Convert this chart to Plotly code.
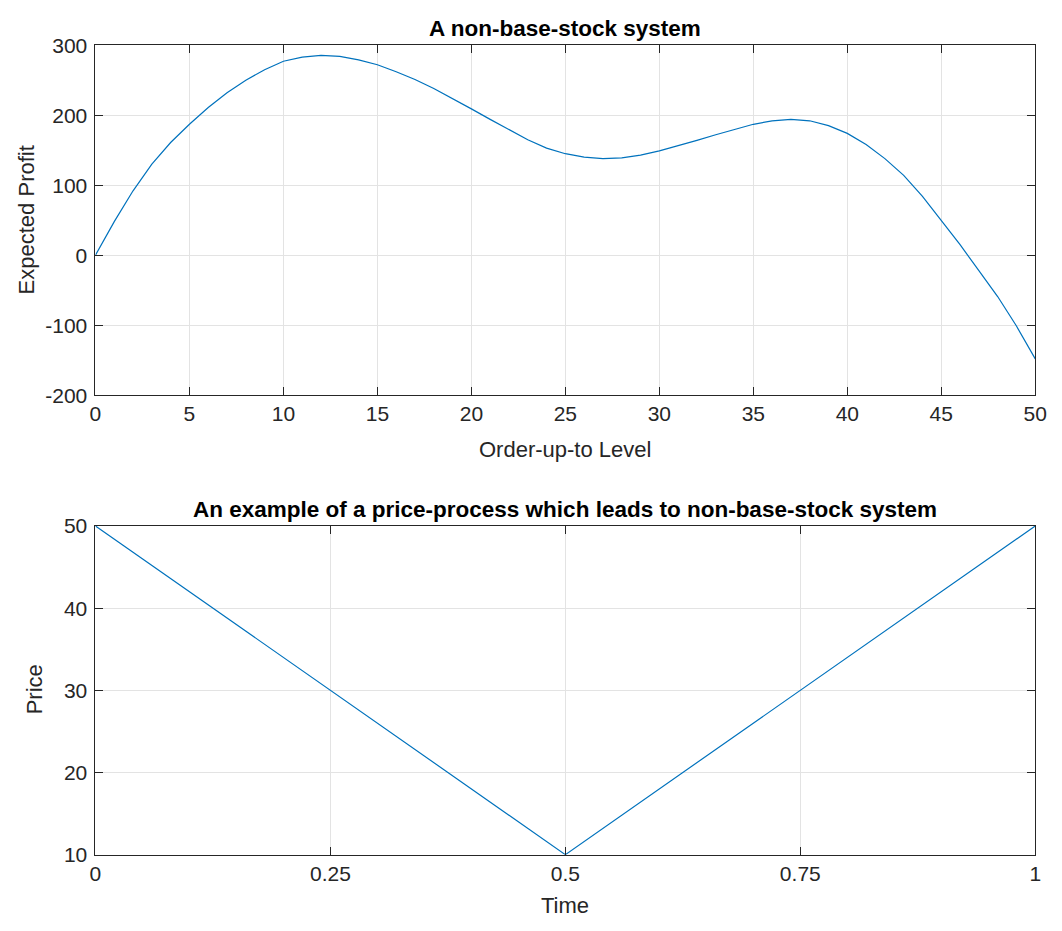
import plotly.graph_objects as go

# Top panel data: expected profit vs order-up-to level
order_level = list(range(0, 51))
expected_profit = [0, 48, 92, 130, 161, 187, 211, 232, 250, 265,
                   277, 283, 285.5, 284, 279, 272, 262, 251, 238, 224,
                   209, 194, 179, 165, 153, 145, 140, 138, 139, 143,
                   149, 156, 164, 172, 180, 187, 192, 194, 192, 185,
                   174, 158, 138, 114, 84, 50, 15, -22, -59, -101,
                   -148]

# Bottom panel data: price process
time_vals = [0, 0.5, 1]
price_vals = [50, 10, 50]

top_xticks = [0, 5, 10, 15, 20, 25, 30, 35, 40, 45, 50]
top_yticks = [-200, -100, 0, 100, 200, 300]
top_yticklabels = ["-200", "-100", "0", "100", "200", "300"]
bot_xticks = [0, 0.25, 0.5, 0.75, 1]
bot_xticklabels = ["0", "0.25", "0.5", "0.75", "1"]
bot_yticks = [10, 20, 30, 40, 50]

W, H = 1062, 931
FONT = "Liberation Sans, Arial, Helvetica, sans-serif"
AX = "#262626"
GRID = "#e3e3e3"
LINE = "#0072BD"


def px(x):
    return x / W


def py(y):
    return 1 - y / H


fig = go.Figure()
fig.add_trace(go.Scatter(x=order_level, y=expected_profit, mode="lines",
                         line=dict(color=LINE, width=1.2), xaxis="x", yaxis="y",
                         showlegend=False))
fig.add_trace(go.Scatter(x=time_vals, y=price_vals, mode="lines",
                         line=dict(color=LINE, width=1.2), xaxis="x2", yaxis="y2",
                         showlegend=False))

xdom = [px(91), px(1047)]
top_dom = [py(393), py(34)]
bot_dom = [py(864), py(527)]

common = dict(showline=True, linecolor=AX, linewidth=1, mirror="ticks",
              ticks="inside", ticklen=8, tickcolor=AX, tickwidth=1,
              showgrid=True, gridcolor=GRID, gridwidth=1, zeroline=False,
              tickfont=dict(family=FONT, size=21, color=AX))

lab = dict(family=FONT, size=22, color=AX)
ttl = dict(family=FONT, size=22.5, color="#000000")

fig.update_layout(
    width=W, height=H,
    margin=dict(l=0, r=0, t=0, b=0),
    paper_bgcolor="white", plot_bgcolor="white",
    font=dict(family=FONT, color=AX),
    xaxis=dict(domain=xdom, range=[0, 50], tickvals=top_xticks, anchor="y", **common),
    yaxis=dict(domain=top_dom, range=[-200, 300], tickvals=top_yticks,
               ticktext=top_yticklabels, anchor="x", ticklabelstandoff=3, **common),
    xaxis2=dict(domain=xdom, range=[0, 1], tickvals=bot_xticks, ticktext=bot_xticklabels,
                anchor="y2", **common),
    yaxis2=dict(domain=bot_dom, range=[10, 50], tickvals=bot_yticks, anchor="x2",
                ticklabelstandoff=3, **common),
    annotations=[
        dict(text="<b>A non-base-stock system</b>", x=px(569), y=py(17),
             xref="paper", yref="paper", xanchor="center", yanchor="middle",
             showarrow=False, font=ttl),
        dict(text="<b>An example of a price-process which leads to non-base-stock system</b>",
             x=px(569), y=py(510), xref="paper", yref="paper",
             xanchor="center", yanchor="middle", showarrow=False, font=ttl),
        dict(text="Order-up-to Level", x=px(569), y=py(449), xref="paper", yref="paper",
             xanchor="center", yanchor="middle", showarrow=False, font=lab),
        dict(text="Expected Profit", x=px(21), y=py(213), xref="paper", yref="paper",
             xanchor="center", yanchor="middle", showarrow=False, font=lab, textangle=-90),
        dict(text="Time", x=px(569), y=py(916), xref="paper", yref="paper",
             xanchor="center", yanchor="middle", showarrow=False, font=lab),
        dict(text="Price", x=px(29), y=py(695), xref="paper", yref="paper",
             xanchor="center", yanchor="middle", showarrow=False, font=lab, textangle=-90),
    ],
)

fig.write_html("out.html")
